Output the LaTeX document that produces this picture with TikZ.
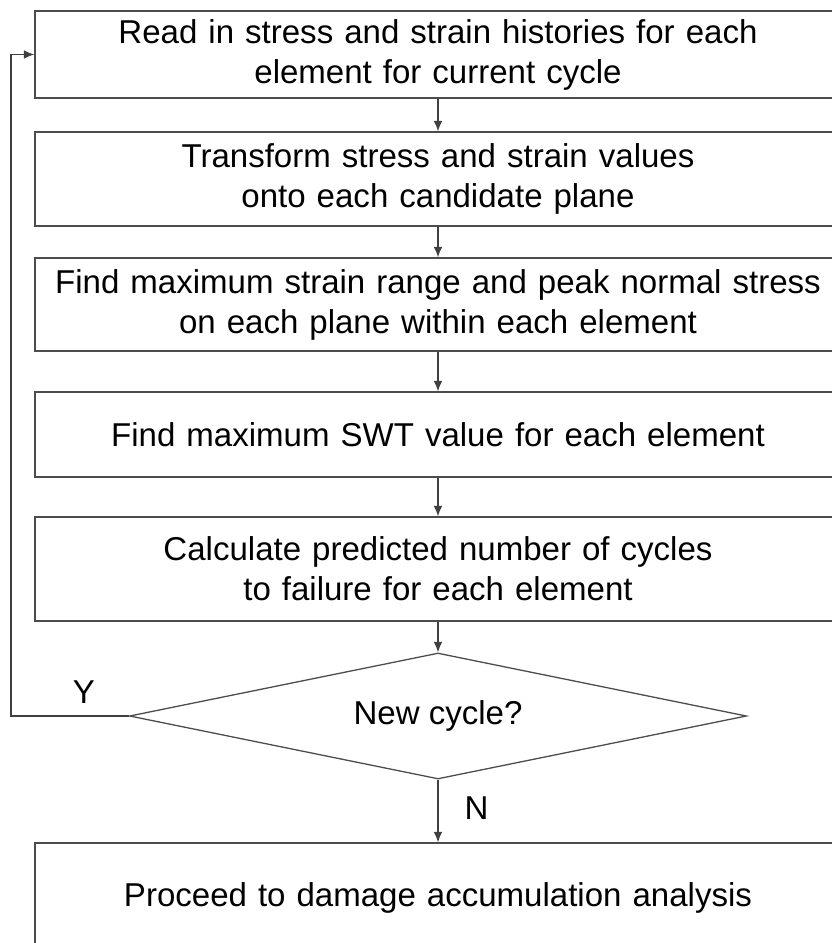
\documentclass[tikz,border=0pt]{standalone}
\usepackage{fontspec}
\setmainfont{Liberation Sans}
\usetikzlibrary{shapes, arrows.meta, positioning}
\tikzstyle{block} = [rectangle, draw=black!70, line width=1.1pt,
    text width=24.18cm, inner sep=0pt, align=center]
\tikzstyle{decision} = [diamond, draw=black!70, line width=1.1pt, aspect=4.9,
    inner sep=0pt, minimum width=18.51cm, minimum height=3.78cm]
\tikzstyle{line} = [draw=black!75, line width=1.1pt, -{Latex[length=9pt, width=7.5pt]}]

\begin{document}
\begin{tikzpicture}[node distance = 3.75cm, auto]
\tikzstyle{every node}=[font=\fontsize{28.2}{34.1}\selectfont]
\useasboundingbox (0,0) rectangle (24.93,-28.29);
\node[block, minimum height=2.61cm] (read) at (13.14,-1.635) {Read in stress and strain histories for each\\element for current cycle};
\node[block, below of=read, node distance=3.735cm, minimum height=2.82cm] (transform) {Transform stress and strain values\\onto each candidate plane};
\node[block, below of=transform, node distance=3.765cm, minimum height=2.79cm] (range) {Find maximum strain range and peak normal stress\\on each plane within each element};
\node[block, below of=range, node distance=3.9cm, minimum height=2.55cm] (swt) {Find maximum SWT value for each element};
\node[block, below of=swt, node distance=4.035cm, minimum height=3.12cm] (life) {Calculate predicted number of cycles\\to failure for each element};
\node[decision, below of=life, node distance=4.41cm] (newcyc) {New cycle?};
\node[block, below of=newcyc, node distance=5.46cm, minimum height=3.3cm] (damage) {Proceed to damage accumulation analysis};
\path [line] (read.south) -- (transform.north);
\path [line] (transform.south) -- (range.north);
\path [line] (range.south) -- (swt.north);
\path [line] (swt.south) -- (life.north);
\path [line] (life.south) -- (newcyc.north);
\path [line] (newcyc.south) -- node[right=0.66cm, pos=0.45] {N} (damage.north);
\path [line] (newcyc.west) -- node[above=0.25cm, pos=0.38] {Y} ++(-3.54,0) |- (read.west);
\end{tikzpicture}
\end{document}
